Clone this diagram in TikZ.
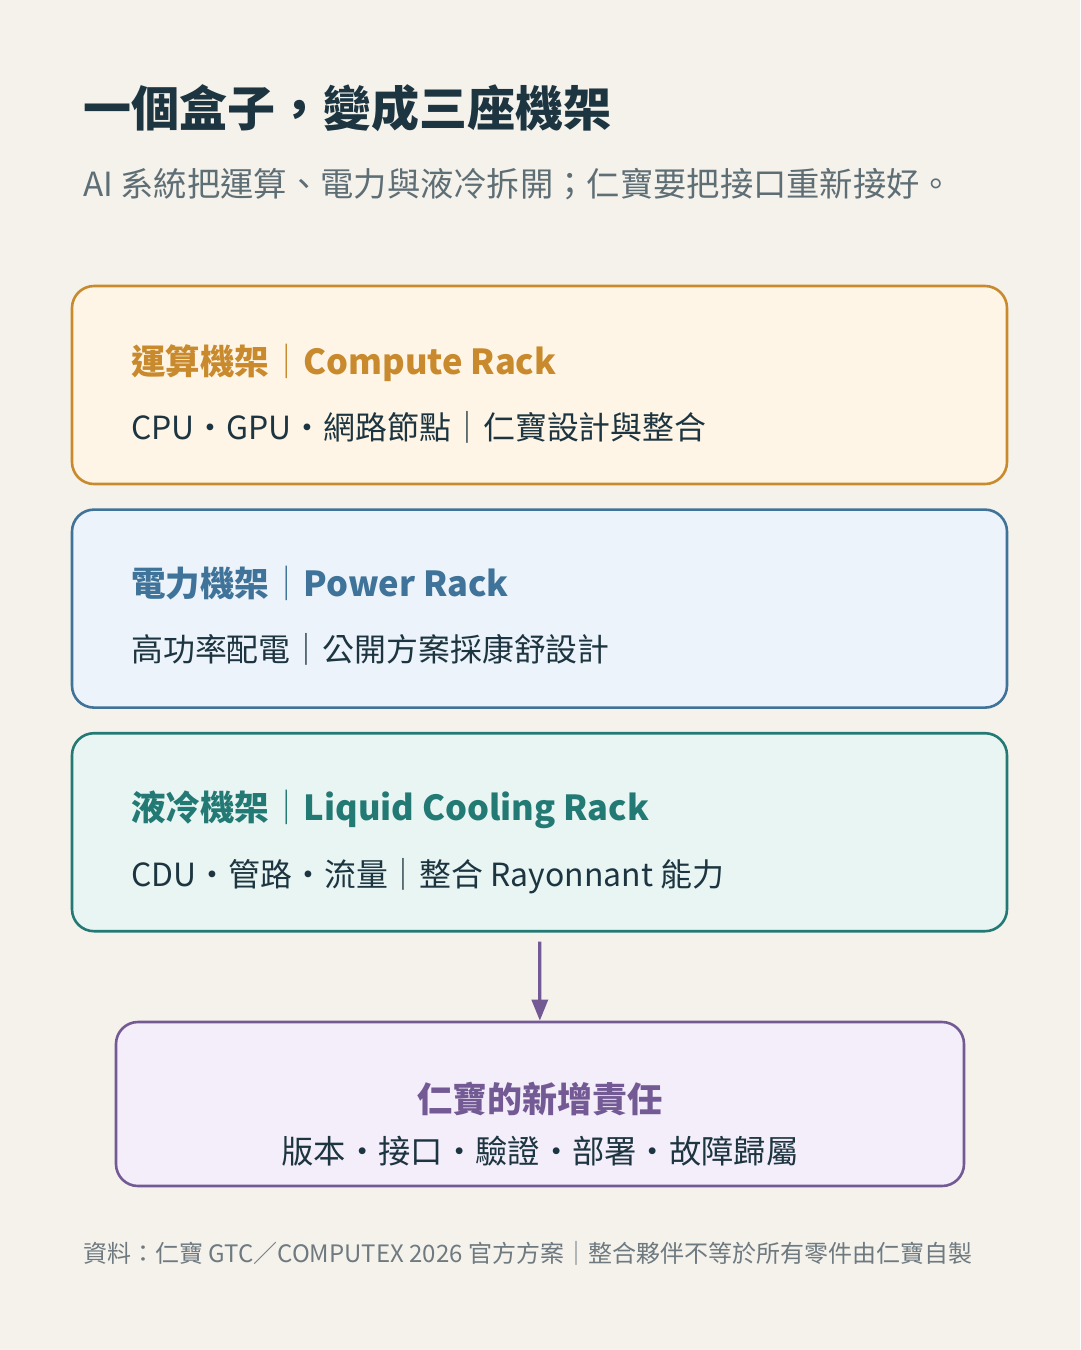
\documentclass[tikz,border=0pt]{standalone}
\usepackage{fontspec}
\setmainfont{Noto Sans CJK TC}
\usetikzlibrary{arrows.meta,positioning}

\definecolor{paper}{HTML}{F5F2EC}
\definecolor{ink}{HTML}{1D3540}
\definecolor{mute}{HTML}{5E6E75}
\definecolor{note}{HTML}{6E7A80}
\definecolor{computeC}{HTML}{C98A2E}
\definecolor{computeF}{HTML}{FEF5E6}
\definecolor{powerC}{HTML}{3F7399}
\definecolor{powerF}{HTML}{ECF3FA}
\definecolor{coolC}{HTML}{237A74}
\definecolor{coolF}{HTML}{E8F5F3}
\definecolor{dutyC}{HTML}{735A94}
\definecolor{dutyF}{HTML}{F3EEFA}

\begin{document}
\begin{tikzpicture}[x=1pt,y=-1pt,line join=round,
  rack/.style={draw, rounded corners=22pt, line width=2.6pt,
    minimum width=935pt, minimum height=198pt, inner sep=0pt},
  head/.style={anchor=base west, inner sep=0pt,
    font=\fontsize{34.5}{40}\selectfont\bfseries},
  body/.style={anchor=base west, inner sep=0pt, text=ink,
    font=\fontsize{31.9}{38}\selectfont},
  flow/.style={draw=dutyC, line width=3.2pt, shorten <=9pt,
    -{Triangle[length=21pt,width=16pt]}}]
  \fill[paper] (0,0) rectangle (1080,1350);
  \useasboundingbox (0,0) rectangle (1080,1350);
  % title
  \node[anchor=base west, inner sep=0pt, text=ink,
    font=\fontsize{48}{56}\selectfont\bfseries] (title) at (83,126)
    {一個盒子，變成三座機架};
  \node[anchor=base west, inner sep=0pt, text=mute,
    font=\fontsize{33.3}{40}\selectfont] (sub) at (83,196)
    {AI 系統把運算、電力與液冷拆開；仁寶要把接口重新接好。};
  % three racks
  \node[rack, draw=computeC, fill=computeF] (compute) at (539.5,385) {};
  \node[rack, draw=powerC, fill=powerF, below=23pt of compute] (power) {};
  \node[rack, draw=coolC, fill=coolF, below=23pt of power] (cool) {};
  \node[head, text=computeC] (computeh) at (131,374)
    {運算機架{\mdseries ｜}Compute Rack};
  \node[body] (computeb) at (131,439)
    {CPU・GPU・網路節點｜仁寶設計與整合};
  \node[head, text=powerC] (powerh) at (131,596)
    {電力機架{\mdseries ｜}Power Rack};
  \node[body] (powerb) at (131,661)
    {高功率配電｜公開方案採康舒設計};
  \node[head, text=coolC] (coolh) at (131,820)
    {液冷機架{\mdseries ｜}Liquid Cooling Rack};
  \node[body] (coolb) at (131,886)
    {CDU・管路・流量｜整合 Rayonnant 能力};
  % new duties
  \node[rack, draw=dutyC, fill=dutyF, minimum width=848pt,
    minimum height=164pt] (duty) at (540,1104) {};
  \node[head, anchor=base, text=dutyC, font=\fontsize{35}{40}\selectfont\bfseries]
    (dutyh) at (540,1112) {仁寶的新增責任};
  \node[body, anchor=base, font=\fontsize{32.3}{38}\selectfont]
    (dutyb) at (540,1163) {版本・接口・驗證・部署・故障歸屬};
  \draw[flow] (cool) -- (duty);
  % source
  \node[anchor=base west, inner sep=0pt, text=note,
    font=\fontsize{24}{28}\selectfont] (src) at (83,1262)
    {資料：仁寶 GTC／COMPUTEX 2026 官方方案｜整合夥伴不等於所有零件由仁寶自製};
\end{tikzpicture}
\end{document}
